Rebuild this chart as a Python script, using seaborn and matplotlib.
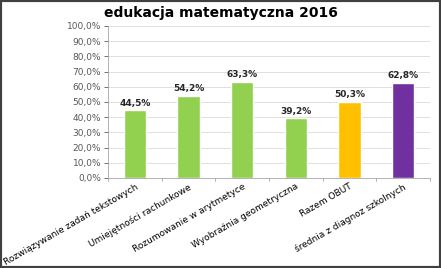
import matplotlib
matplotlib.use("Agg")
import matplotlib.pyplot as plt
import seaborn as sns
import pandas as pd
from matplotlib.patches import Rectangle
from matplotlib.ticker import FuncFormatter, MultipleLocator

categories = ["Rozwiązywanie zadań tekstowych", "Umiejętności rachunkowe",
              "Rozumowanie w arytmetyce", "Wyobraźnia geometryczna",
              "Razem OBUT", "średnia z diagnoz szkolnych"]
values = [44.5, 54.2, 63.3, 39.2, 50.3, 62.8]
colors = ["#92D050", "#92D050", "#92D050", "#92D050", "#FFC000", "#7030A0"]
title = "edukacja matematyczna 2016"

sns.set_style("white")
plt.rcParams['font.family'] = ['DejaVu Sans']

df = pd.DataFrame({"cat": categories, "val": values})
fig = plt.figure(figsize=(4.41, 2.68), dpi=100)
ax = fig.add_axes([0.245, 0.336, 0.73, 0.567])
sns.barplot(data=df, x="cat", y="val", hue="cat", palette=colors, legend=False,
            width=0.42, ax=ax, saturation=1)

ax.set_ylim(0, 100)
ax.yaxis.set_major_locator(MultipleLocator(10))
ax.yaxis.set_major_formatter(FuncFormatter(lambda v, p: f"{v:.1f}%".replace(".", ",")))
ax.grid(axis="y", color="#d9d9d9", linewidth=0.6)
ax.set_axisbelow(True)
ax.set_xlim(-0.5, len(categories) - 0.5)
for s in ["top", "right"]:
    ax.spines[s].set_visible(False)
for s in ["left", "bottom"]:
    ax.spines[s].set_color("#a6a6a6")
    ax.spines[s].set_linewidth(0.6)
ax.set_xlabel("")
ax.set_ylabel("")
ax.tick_params(axis="y", labelsize=6.5, colors="#595959", length=3, width=0.6, left=True, pad=2)
ax.tick_params(axis="x", labelsize=6.5, length=0, pad=3)
ax.set_xticks(range(len(categories)))
ax.set_xticklabels(categories, rotation=30, ha="right", rotation_mode="anchor")
for t in ax.get_xticklabels():
    t.set_color("black")
for i in range(len(categories) + 1):
    ax.plot([i - 0.5, i - 0.5], [0, -1.8], color="#a6a6a6", lw=0.6, clip_on=False)

for i, v in enumerate(values):
    ax.text(i, v + 1.5, f"{v:.1f}%".replace(".", ","), ha="center", va="bottom",
            fontsize=6.5, fontweight="bold")

fig.text(0.5, 0.953, title, ha="center", va="center", fontsize=10, fontweight="bold",
         color="black")
fig.patches.append(Rectangle((0, 0), 1, 1, transform=fig.transFigure, fill=False,
                             edgecolor="#404040", linewidth=3))
fig.savefig("out.png", dpi=100)
